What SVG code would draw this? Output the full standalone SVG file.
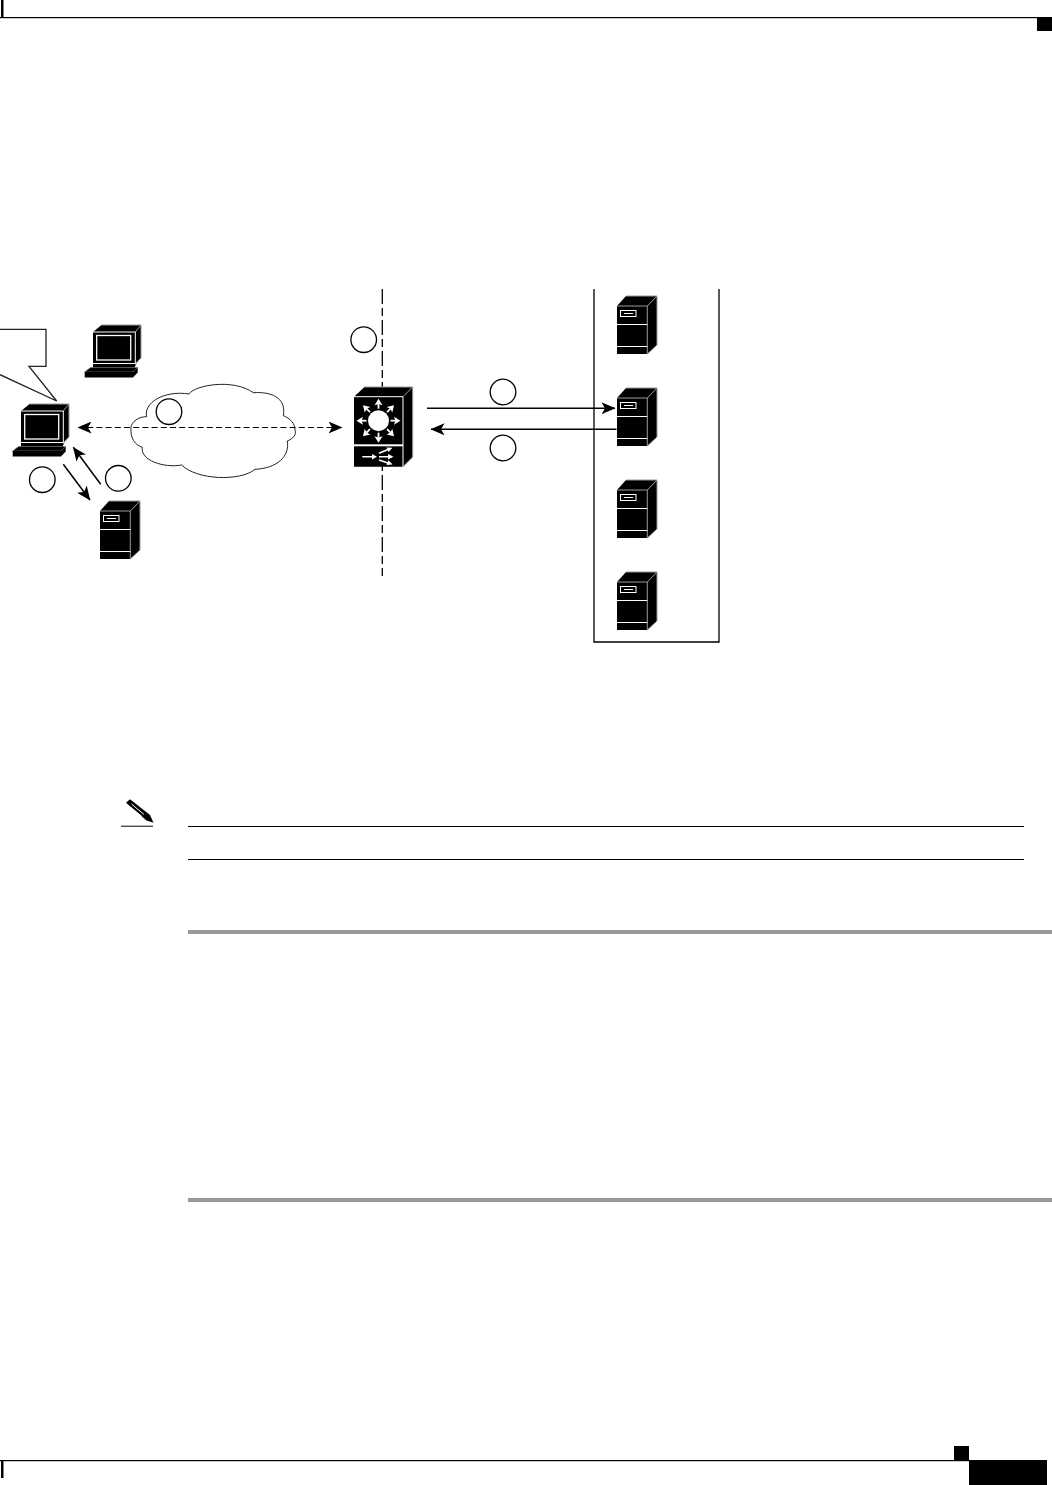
<svg xmlns="http://www.w3.org/2000/svg" width="1052" height="1485" viewBox="0 0 1052 1485">
<style>
.k{fill:#000}
.edge{stroke:#999;stroke-width:1;fill:none}
.wl{stroke:#fff;stroke-width:1;fill:none}
.wl2{stroke:#fff;stroke-width:1.3;fill:none}
.conn{stroke:#000;stroke-width:1.2;fill:none}
.solid{stroke:#000;stroke-width:1.5;fill:none}
.dash{stroke-dasharray:6 3.2}
.step{stroke:#000;stroke-width:1.3;fill:#fff}
.rule{fill:#999}
.sw{stroke:#fff;stroke-width:1.6;fill:none}
</style>
<defs>
<marker id="ah" viewBox="0 0 14 12" refX="13.5" refY="6" markerWidth="14" markerHeight="12" markerUnits="userSpaceOnUse" orient="auto-start-reverse">
<path d="M0 0L14 6L0 12L3.5 6Z" fill="#000"/>
</marker>
<g id="computer">
<path class="k" d="M21 411L29.500 404H69V437L63.500 443.500V445H21Z"/>
<path class="edge" d="M29.500 404H69V437L63 443"/>
<path class="edge" d="M63.300 411L69 404"/>
<path class="wl" d="M21 411H63.300V443"/>
<rect x="24.700" y="414.500" width="34" height="24.500" class="wl2"/>
<path class="k" d="M21 443H63V447H21Z"/>
<path class="wl" d="M21 442.500H63"/>
<path d="M12.700 451L18.500 446.500H65.700L61 451Z" fill="#000" stroke="#777" stroke-width=".7"/>
<rect x="12.700" y="451" width="48.300" height="5.500" class="k"/>
<path class="k" d="M61 451L65.700 446.500V451.500L61 456.500Z"/>
</g>
<g id="server">
<path class="k" d="M617 306L626 296H657V345L647.300 354H617Z"/>
<path class="edge" d="M626 296H657V345L647.300 354"/>
<path class="edge" d="M617 306H647.300V354M647.300 306L657 296"/>
<path class="wl" d="M617 324.500H647.300M617 346.500H647.300"/>
<rect x="620.500" y="310.500" width="15.500" height="6" class="wl"/>
<path class="wl" d="M624 313.500H633"/>
</g>
<g id="ray">
<path d="M0 -12V-17" stroke="#fff" stroke-width="1.800" fill="none"/>
<path d="M0 -22L4 -15.500L0 -16.800L-4 -15.500Z" fill="#fff"/>
</g>
</defs>
<rect width="1052" height="1485" fill="#fff"/>

<g id="page-frame">
<rect x="1" y="0" width="2.500" height="18" class="k"/>
<rect x="0" y="17" width="1052" height="1.200" class="k"/>
<rect x="1037" y="18" width="15" height="13" class="k"/>
<rect x="1" y="1460" width="2.500" height="18" class="k"/>
<rect x="0" y="1460" width="969" height="1.200" class="k"/>
<rect x="954" y="1446" width="15" height="14" class="k"/>
<rect x="969" y="1460" width="78" height="25" class="k"/>
<rect x="188" y="930" width="864" height="4" class="rule"/>
<rect x="188" y="1198" width="864" height="4" class="rule"/>
</g>

<g id="note">
<rect x="121" y="825.700" width="32" height="1" class="k"/>
<rect x="188" y="826" width="836" height="1" class="k"/>
<rect x="188" y="859" width="836" height="1" class="k"/>
<path class="k" d="M126 802.700L130 799.300L150 815L153.500 822.700L146.500 820.500Z"/>
<path d="M131.500 804L144 814.500M129.500 806.500L142 816.500" stroke="#fff" stroke-width="1" fill="none"/>
</g>

<g id="server-group">
<path d="M594 289V642H719V289" fill="none" stroke="#000" stroke-width="1.300"/>
</g>

<g id="dmz-boundary">
<path d="M382.300 289V576" fill="none" stroke="#000" stroke-width="1.300" stroke-dasharray="15 4 8 4"/>
</g>

<g id="cloud">
<path transform="translate(120 370) scale(.3333)" d="M207 72C225 45 340 25 400 68C450 65 500 80 490 137C510 145 525 160 525 180C530 195 520 205 502 213C510 260 470 295 405 298C360 335 230 330 185 285C130 295 60 270 67 232C45 225 30 205 33 172C35 155 55 140 80 140C70 100 130 60 207 72Z" fill="#fff" stroke="#222" stroke-width="3"/>
</g>

<g id="callout">
<path d="M0 329.300H46V366.300H29L56.700 401L0 374.700" fill="none" stroke="#222" stroke-width="1.300"/>
</g>

<g id="client-pc"><use href="#computer"/></g>
<g id="other-pc"><use href="#computer" x="72" y="-79"/></g>
<g id="local-server"><use href="#server" x="-517" y="205"/></g>
<g id="server-1"><use href="#server"/></g>
<g id="server-2"><use href="#server" y="92"/></g>
<g id="server-3"><use href="#server" y="184"/></g>
<g id="server-4"><use href="#server" y="276"/></g>

<g id="switch">
<path class="k" d="M354 396.700L364.500 387H412.700V457L403 466.700H354Z"/>
<path class="edge" d="M364.500 387H412.700V457L403 466.700M403 396.700L412.700 387"/>
<path class="wl" d="M354 396.700H403V466.700"/>
<rect x="354" y="444.300" width="49" height="2" fill="#fff"/>
<circle cx="378.500" cy="420.700" r="10.500" fill="#fff"/>
<g transform="translate(378.500 420.700)">
<use href="#ray"/>
<use href="#ray" transform="rotate(45)"/>
<use href="#ray" transform="rotate(90)"/>
<use href="#ray" transform="rotate(135)"/>
<use href="#ray" transform="rotate(180)"/>
<use href="#ray" transform="rotate(225)"/>
<use href="#ray" transform="rotate(270)"/>
<use href="#ray" transform="rotate(315)"/>
</g>
<path class="sw" d="M362.300 456.700H373M379 453.300L388 449.500M379 456.700H389M379 460L388 463"/>
<path fill="#fff" d="M377 456.700L372 454V459.400ZM392.500 447.800L386.500 447.500L388.500 452ZM393.500 456.700L388 454V459.400ZM392.500 464.500L388.500 460.200L386.500 465Z"/>
</g>

<g id="connectors">
<path class="conn dash" d="M78 427.500H342" marker-start="url(#ah)" marker-end="url(#ah)"/>
<path class="solid" d="M427 408.300H615" marker-end="url(#ah)" stroke-width="1.300"/>
<path class="solid" d="M616.500 429.300H431" marker-end="url(#ah)"/>
<path class="solid" d="M63.300 464.300L90 500" marker-end="url(#ah)"/>
<path class="solid" d="M100.700 484.300L73.300 447.300" marker-end="url(#ah)"/>
</g>

<g id="step-markers">
<circle class="step" cx="42.300" cy="479.700" r="12.800"/>
<circle class="step" cx="118.300" cy="478.300" r="12.800"/>
<circle class="step" cx="169" cy="411.700" r="12.800"/>
<circle class="step" cx="363.700" cy="339.700" r="12.800"/>
<circle class="step" cx="503" cy="392" r="12.800"/>
<circle class="step" cx="503" cy="448" r="12.800"/>
</g>
</svg>
